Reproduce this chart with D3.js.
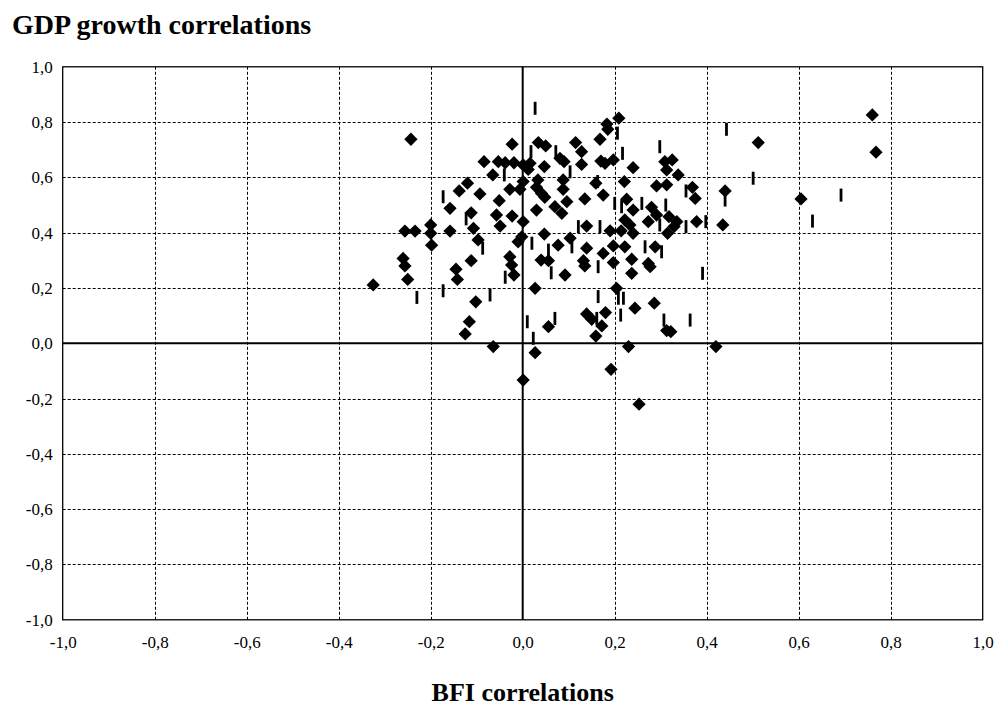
<!DOCTYPE html>
<html>
<head>
<meta charset="utf-8">
<script src="https://cdn.jsdelivr.net/npm/d3@7"></script>
<style>
  html, body { margin: 0; padding: 0; background: #fff; }
  svg { display: block; }
  .tick text { font-family: 'Liberation Serif', 'Times New Roman', serif !important; font-size: 17px !important; fill: #000; }
</style>
</head>
<body>
<svg id="chart" width="1002" height="719"></svg>
<script>
// Correlation pairs: BFI correlation (x) vs GDP growth correlation (y)
const diamondBFI = [
  -0.325, -0.243, -0.256, -0.234, -0.260, -0.256, -0.250, -0.200, -0.200, -0.198,
  -0.158, -0.158, -0.138, -0.120, -0.112, -0.107, -0.097, -0.093, -0.084, -0.065,
  -0.053, -0.038, -0.019, 0.001, -0.023, -0.051, -0.057, -0.049, -0.023, -0.028,
  -0.006, 0.001, 0.001, -0.002, -0.010, -0.112, -0.145, -0.142, -0.028, -0.024,
  -0.019, -0.102, -0.116, -0.125, -0.064, 0.001,
  0.209, 0.183, 0.185, 0.168, 0.115, 0.034, 0.050, 0.128, 0.170, 0.179,
  0.197, 0.081, 0.090, 0.128, 0.240, 0.309, 0.325, 0.313, 0.338, 0.016,
  0.012, 0.047, 0.033, 0.088, 0.159, 0.221, 0.291, 0.313, 0.030, 0.041,
  0.048, 0.088, 0.175, 0.135, 0.226, 0.030, 0.070, 0.096, 0.085, 0.240,
  0.280, 0.291, 0.318, 0.335, 0.273, 0.222, 0.233, 0.240, 0.315, 0.139,
  0.190, 0.214, 0.047, 0.103, 0.077, 0.139, 0.197, 0.222, 0.288, 0.040,
  0.056, 0.092, 0.132, 0.135, 0.175, 0.197, 0.237, 0.237, 0.273, 0.277,
  0.027, 0.204, 0.244, 0.286, 0.139, 0.150, 0.180, 0.172, 0.159, 0.056,
  0.027, 0.230, 0.192, 0.253, 0.313, 0.322, 0.420, 0.760, 0.768, 0.512,
  0.369, 0.375, 0.440, 0.378, 0.435, 0.605, 0.329
];
const diamondGDP = [
  0.211, 0.738, 0.406, 0.406, 0.307, 0.280, 0.231, 0.428, 0.398, 0.355,
  0.406, 0.488, 0.551, 0.579, 0.472, 0.416, 0.374, 0.540, 0.657, 0.609,
  0.657, 0.653, 0.653, 0.645, 0.720, 0.516, 0.464, 0.424, 0.460, 0.557,
  0.557, 0.585, 0.440, 0.385, 0.367, 0.299, 0.268, 0.231, 0.313, 0.283,
  0.247, 0.150, 0.078, 0.034, -0.012, -0.133,
  0.814, 0.793, 0.774, 0.738, 0.726, 0.726, 0.714, 0.693, 0.659, 0.651,
  0.663, 0.669, 0.657, 0.647, 0.635, 0.657, 0.663, 0.627, 0.609, 0.651,
  0.629, 0.639, 0.591, 0.591, 0.579, 0.585, 0.569, 0.573, 0.564, 0.542,
  0.528, 0.557, 0.536, 0.522, 0.521, 0.482, 0.494, 0.512, 0.470, 0.482,
  0.492, 0.464, 0.458, 0.440, 0.440, 0.446, 0.428, 0.398, 0.398, 0.424,
  0.407, 0.407, 0.395, 0.380, 0.355, 0.344, 0.352, 0.349, 0.349, 0.301,
  0.299, 0.247, 0.299, 0.280, 0.325, 0.292, 0.304, 0.253, 0.289, 0.277,
  0.199, 0.199, 0.127, 0.145, 0.106, 0.087, 0.111, 0.063, 0.026, 0.060,
  -0.034, -0.012, -0.094, -0.220, 0.046, 0.042, -0.012, 0.826, 0.691, 0.726,
  0.564, 0.524, 0.551, 0.440, 0.428, 0.522, 0.422
];
const dashBFI = [
  0.027, 0.206, 0.298, 0.217, 0.018, 0.072, 0.103, -0.040, 0.163, -0.173,
  0.200, 0.215, 0.259, 0.311, -0.123, 0.298, 0.121, 0.168, 0.355, 0.020,
  0.056, 0.107, 0.266, 0.302, -0.087, 0.062, 0.164, -0.038, -0.230, -0.173,
  -0.071, 0.164, 0.208, 0.219, 0.213, 0.010, 0.070, 0.161, 0.307, 0.364,
  0.023, 0.391, 0.443, 0.501, 0.440, 0.398, 0.692, 0.630, 0.355
];
const dashGDP = [
  0.850, 0.760, 0.711, 0.687, 0.693, 0.693, 0.620, 0.609, 0.585, 0.530,
  0.506, 0.494, 0.506, 0.500, 0.450, 0.428, 0.422, 0.422, 0.422, 0.362,
  0.337, 0.349, 0.349, 0.331, 0.344, 0.255, 0.277, 0.239, 0.166, 0.190,
  0.175, 0.169, 0.163, 0.163, 0.102, 0.078, 0.090, 0.090, 0.084, 0.084,
  0.018, 0.253, 0.774, 0.597, 0.518, 0.440, 0.536, 0.442, 0.551
];
const tickValues = [-1.0, -0.8, -0.6, -0.4, -0.2, 0.0, 0.2, 0.4, 0.6, 0.8, 1.0];
const titleText = "GDP growth correlations";
const xTitleText = "BFI correlations";

(function draw() {
  const svg = d3.select("#chart");
  const plotL = 62.7, plotR = 982.7, plotT = 66.8, plotB = 619.8;

  const x = d3.scaleLinear().domain([-1, 1]).range([plotL, plotR]);
  const y = d3.scaleLinear().domain([-1, 1]).range([plotB, plotT]);
  const fmt = v => d3.format(".1f")(v).replace(".", ",").replace("\u2212", "-");

  const serif = "'Liberation Serif', 'Times New Roman', serif";
  const inner = tickValues.filter(v => v !== -1 && v !== 1 && v !== 0);

  // dashed gridlines
  const grid = svg.append("g");
  grid.selectAll("line.gx").data(inner)
    .join("line").attr("class", "gx")
    .attr("x1", d => Math.round(x(d)) + 0.5).attr("x2", d => Math.round(x(d)) + 0.5)
    .attr("y1", plotT).attr("y2", plotB)
    .attr("stroke", "#000").attr("stroke-width", 1)
    .attr("stroke-dasharray", "3,2");
  grid.selectAll("line.gy").data(inner)
    .join("line").attr("class", "gy")
    .attr("x1", plotL).attr("x2", plotR)
    .attr("y1", d => Math.round(y(d)) + 0.5).attr("y2", d => Math.round(y(d)) + 0.5)
    .attr("stroke", "#000").attr("stroke-width", 1)
    .attr("stroke-dasharray", "3,2");

  // plot frame
  svg.append("rect")
    .attr("x", plotL).attr("y", plotT)
    .attr("width", plotR - plotL).attr("height", plotB - plotT)
    .attr("fill", "none").attr("stroke", "#000").attr("stroke-width", 1.3);

  // zero axes
  svg.append("line")
    .attr("x1", x(0)).attr("x2", x(0)).attr("y1", plotT).attr("y2", plotB)
    .attr("stroke", "#000").attr("stroke-width", 2);
  svg.append("line")
    .attr("x1", plotL).attr("x2", plotR).attr("y1", y(0)).attr("y2", y(0))
    .attr("stroke", "#000").attr("stroke-width", 2);

  // tick labels via d3 axes (axis lines hidden)
  const xAxisGen = d3.axisBottom(x).tickValues(tickValues).tickFormat(fmt).tickSize(0).tickPadding(16);
  const yAxisGen = d3.axisLeft(y).tickValues(tickValues).tickFormat(fmt).tickSize(0).tickPadding(10);
  svg.append("g").attr("class", "axis")
    .attr("transform", `translate(0,${plotB})`)
    .call(xAxisGen);
  svg.append("g").attr("class", "axis")
    .attr("transform", `translate(${plotL},0)`)
    .call(yAxisGen);
  svg.selectAll("g.axis")
    .attr("font-family", serif).attr("font-size", 17);
  svg.selectAll("g.axis .domain").remove();
  svg.selectAll("g.axis .tick text")
    .attr("font-family", serif).attr("font-size", 17).attr("fill", "#000");

  // dash-marker series
  svg.append("g").selectAll("rect")
    .data(dashBFI.map((v, i) => [v, dashGDP[i]]))
    .join("rect")
    .attr("x", d => x(d[0]) - 1.4).attr("y", d => y(d[1]) - 6.5)
    .attr("width", 2.8).attr("height", 13)
    .attr("fill", "#000");

  // diamond series
  const diamond = d3.symbol().type(d3.symbolSquare).size(88);
  svg.append("g").selectAll("path")
    .data(diamondBFI.map((v, i) => [v, diamondGDP[i]]))
    .join("path")
    .attr("d", diamond)
    .attr("transform", d => `translate(${x(d[0])},${y(d[1])}) rotate(45)`)
    .attr("fill", "#000");

  // titles
  svg.append("text")
    .attr("x", 12).attr("y", 34)
    .style("font-family", serif).style("font-weight", "bold").style("font-size", "28px")
    .text(titleText);
  svg.append("text")
    .attr("x", (plotL + plotR) / 2).attr("y", 701)
    .attr("text-anchor", "middle")
    .style("font-family", serif).style("font-weight", "bold").style("font-size", "26px")
    .text(xTitleText);
})();
</script>
</body>
</html>
